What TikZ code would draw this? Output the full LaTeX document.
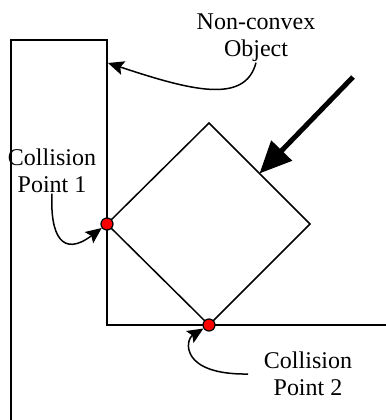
\documentclass[tikz,border=0pt]{standalone}
\usepackage{fontspec}
\setmainfont{Liberation Serif}
\usetikzlibrary{calc,arrows.meta}
\definecolor{pointred}{RGB}{255,0,0}

\begin{document}
\begin{tikzpicture}[x=0.5pt, y=-0.5pt, line width=0.75pt,
    every node/.style={font=\fontsize{12}{13.5}\selectfont, align=center, inner sep=0pt},
    contact/.style={circle, draw, fill=pointred, minimum size=6pt, line width=0.6pt},
    pointer/.style={-{Stealth[length=8pt,width=7pt,inset=1.5pt]}}]
  \useasboundingbox (0,0) rectangle (386,420);
  % non-convex wall
  \draw (11,420) -- (11,40) -- (107,40) -- (107,325) -- (386,325);
  \coordinate (wall) at (108,63);
  % square object
  \coordinate (top) at (209,123);
  \coordinate (right) at (310,224);
  \coordinate (bottom) at (209,325);
  \coordinate (left) at (107,224);
  \draw (top) -- (right) -- (bottom) -- (left) -- cycle;
  \node[contact] (cp1) at (left) {};
  \node[contact] (cp2) at (bottom) {};
  % push direction
  \coordinate (push) at (353,77);
  \draw[line width=2.5pt, -{Triangle[length=16pt,width=14pt]}] (push) -- ($(top)!0.5!(right)$);
  % labels
  \node (obj) at (256,38) {Non-convex\\Object};
  \node (lab1) at (52,171) {Collision\\Point 1};
  \node (lab2) at (308,374) {Collision\\Point 2};
  \draw[pointer] (obj.south) .. controls (245,105) and (190,90) .. (wall);
  \draw[pointer] (lab1.south) .. controls (50,235) and (62,258) .. (cp1);
  \draw[pointer] ($(lab2.west)+(-15,0)$) .. controls (180,375) and (185,340) .. (cp2);
\end{tikzpicture}
\end{document}
